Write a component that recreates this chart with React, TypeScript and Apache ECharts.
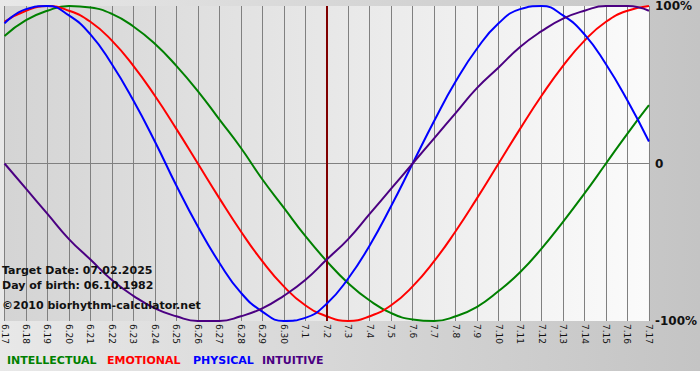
import React, { useEffect, useRef } from "react";
import * as echarts from "echarts";

const dates = [
  "6.17", "6.18", "6.19", "6.20", "6.21", "6.22", "6.23", "6.24", "6.25", "6.26",
  "6.27", "6.28", "6.29", "6.30", "7.1", "7.2", "7.3", "7.4", "7.5", "7.6",
  "7.7", "7.8", "7.9", "7.10", "7.11", "7.12", "7.13", "7.14", "7.15", "7.16", "7.17",
];

const intellectual = [
  0.81, 0.91, 0.97, 1.0, 0.99, 0.95, 0.87, 0.76, 0.62, 0.46,
  0.28, 0.1, -0.1, -0.28, -0.46, -0.62, -0.76, -0.87, -0.95, -0.99,
  -1.0, -0.97, -0.91, -0.81, -0.69, -0.54, -0.37, -0.19, 0.0, 0.19, 0.37,
];
const emotional = [
  0.9, 0.97, 1.0, 0.97, 0.9, 0.78, 0.62, 0.43, 0.22, 0.0,
  -0.22, -0.43, -0.62, -0.78, -0.9, -0.97, -1.0, -0.97, -0.9, -0.78,
  -0.62, -0.43, -0.22, 0.0, 0.22, 0.43, 0.62, 0.78, 0.9, 0.97, 1.0,
];
const physical = [
  0.89, 0.98, 1.0, 0.94, 0.82, 0.63, 0.4, 0.14, -0.14, -0.4,
  -0.63, -0.82, -0.94, -1.0, -0.98, -0.89, -0.73, -0.52, -0.27, 0.0,
  0.27, 0.52, 0.73, 0.89, 0.98, 1.0, 0.94, 0.82, 0.63, 0.4, 0.14,
];
const intuitive = [
  0.0, -0.16, -0.32, -0.48, -0.61, -0.74, -0.84, -0.92, -0.97, -1.0,
  -1.0, -0.97, -0.92, -0.84, -0.74, -0.61, -0.48, -0.32, -0.16, 0.0,
  0.16, 0.32, 0.48, 0.61, 0.74, 0.84, 0.92, 0.97, 1.0, 1.0, 0.97,
];

const targetDate = "7.2";
const infoLines = ["Target Date: 07.02.2025", "Day of birth: 06.10.1982", "\u00a92010 biorhythm-calculator.net"];
const legendNames = ["INTELLECTUAL", "EMOTIONAL", "PHYSICAL", "INTUITIVE"];
const colors = ["#008000", "#ff0000", "#0000ff", "#4b0082"];
const yTickLabels: Record<string, string> = { "1": "100%", "0": "0", "-1": "-100%" };

export default function App() {
  const ref = useRef<HTMLDivElement>(null);
  useEffect(() => {
    document.body.style.margin = "0";
    if (!ref.current) return;
    const chart = echarts.init(ref.current, null, { renderer: "svg" });
    const font = "DejaVu Sans, Verdana, sans-serif";
    const seriesData = [intellectual, emotional, physical, intuitive];
    const legendX = [7, 107, 193, 262];
    chart.setOption({
      animation: false,
      grid: {
        left: 0,
        right: 49,
        top: 3,
        bottom: 59,
        show: true,
        borderWidth: 0,
        backgroundColor: {
          type: "linear",
          x: 0,
          y: 0,
          x2: 1,
          y2: 0,
          colorStops: [
            { offset: 0, color: "#d4d4d4" },
            { offset: 1, color: "#fbfbfb" },
          ],
        },
      },
      xAxis: {
        type: "category",
        data: dates,
        boundaryGap: false,
        axisLine: { show: false },
        axisTick: { show: true, length: 3, lineStyle: { color: "#808080" } },
        axisLabel: {
          rotate: -90,
          fontSize: 9,
          fontFamily: font,
          color: "#111",
          margin: 3,
          interval: 0,
        },
        splitLine: { show: true, lineStyle: { color: "#808080", width: 1 } },
      },
      yAxis: {
        type: "value",
        position: "right",
        min: -1,
        max: 1,
        interval: 1,
        axisLine: { show: false },
        axisTick: { show: false },
        axisLabel: {
          fontSize: 12,
          fontWeight: "bold",
          fontFamily: font,
          color: "#111",
          margin: 6,
          formatter: (v: number) => yTickLabels[String(v)],
        },
        splitLine: {
          show: true,
          lineStyle: { color: ["transparent", "#808080", "transparent"], width: 1 },
        },
      },
      series: seriesData.map((d, i) => ({
        type: "line",
        name: legendNames[i],
        data: d,
        smooth: true,
        showSymbol: false,
        lineStyle: { color: colors[i], width: 2 },
        z: 3 + i,
        markLine:
          i === 0
            ? {
                symbol: "none",
                silent: true,
                label: { show: false },
                lineStyle: { color: "#800000", width: 2, type: "solid" },
                data: [{ xAxis: targetDate }],
              }
            : undefined,
      })),
      graphic: [
        ...infoLines.map((t, i) => ({
          type: "text",
          left: 2,
          top: [265, 280, 300][i],
          z: 20,
          style: {
            text: t,
            fill: "#111",
            font: `bold 11px ${font}`,
          },
        })),
        ...legendNames.map((t, i) => ({
          type: "text",
          left: legendX[i],
          top: 355,
          z: 20,
          style: {
            text: t,
            fill: colors[i],
            font: `bold 11px ${font}`,
          },
        })),
      ],
    });
    return () => chart.dispose();
  }, []);
  return (
    <div
      ref={ref}
      style={{
        width: 700,
        height: 380,
        background:
          "linear-gradient(#ffffff, #ffffff) bottom / 100% 9px no-repeat, linear-gradient(to right, #e8e8e8, #c4c4c4)",
      }}
    />
  );
}
